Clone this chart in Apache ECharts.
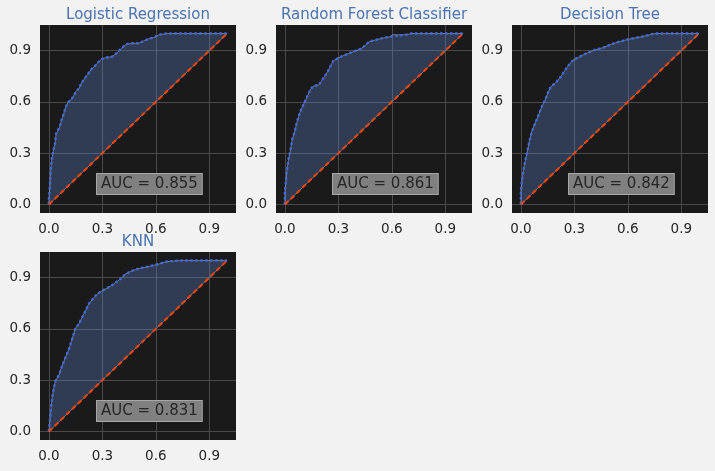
<!DOCTYPE html>
<html>
<head>
<meta charset="utf-8">
<script src="https://cdn.jsdelivr.net/npm/echarts@6/dist/echarts.min.js"></script>
<style>
  html, body { margin: 0; padding: 0; background: #f2f2f2; }
  #chart { width: 715px; height: 471px; }
</style>
</head>
<body>
<div id="chart"></div>
<script>
(function() {
	// model names and AUC text
	var modelNames = ['Logistic Regression', 'Random Forest Classifier', 'Decision Tree', 'KNN'];
	var aucValues = ['0.855', '0.861', '0.842', '0.831'];

	// ROC curves
	var lrFpr = [0, 0, 0.006, 0.011, 0.017, 0.024, 0.034, 0.041, 0.048, 0.061, 0.071, 0.082, 0.095, 0.108, 0.123, 0.142, 0.151, 0.17, 0.182, 0.197, 0.216, 0.235, 0.263, 0.281, 0.296, 0.318, 0.356, 0.38, 0.408, 0.434, 0.467, 0.505, 0.533, 0.56, 0.588, 0.616, 0.66, 1.0];
	var lrTpr = [0, 0.035, 0.113, 0.21, 0.27, 0.31, 0.357, 0.416, 0.426, 0.455, 0.494, 0.527, 0.572, 0.598, 0.611, 0.64, 0.66, 0.68, 0.71, 0.732, 0.758, 0.787, 0.816, 0.836, 0.85, 0.859, 0.865, 0.885, 0.914, 0.938, 0.943, 0.943, 0.957, 0.969, 0.977, 0.992, 1.0, 1.0];

	var rfFpr = [0, 0, 0.006, 0.01, 0.021, 0.03, 0.04, 0.055, 0.068, 0.083, 0.098, 0.116, 0.129, 0.144, 0.161, 0.19, 0.203, 0.222, 0.24, 0.259, 0.272, 0.296, 0.324, 0.361, 0.398, 0.426, 0.45, 0.473, 0.51, 0.547, 0.594, 0.602, 0.68, 0.71, 1.0];
	var rfTpr = [0, 0.074, 0.133, 0.19, 0.27, 0.31, 0.377, 0.426, 0.484, 0.533, 0.572, 0.611, 0.64, 0.674, 0.693, 0.699, 0.719, 0.748, 0.777, 0.816, 0.84, 0.855, 0.869, 0.885, 0.9, 0.91, 0.93, 0.953, 0.963, 0.973, 0.982, 0.993, 0.993, 1.0, 1.0];

	var dtFpr = [0, 0, 0.009, 0.019, 0.034, 0.047, 0.061, 0.08, 0.099, 0.117, 0.136, 0.154, 0.168, 0.192, 0.22, 0.242, 0.266, 0.294, 0.331, 0.369, 0.415, 0.462, 0.509, 0.555, 0.6, 0.676, 0.75, 1.0];
	var dtTpr = [0, 0.084, 0.162, 0.23, 0.299, 0.367, 0.426, 0.475, 0.523, 0.572, 0.611, 0.66, 0.689, 0.709, 0.742, 0.777, 0.812, 0.846, 0.865, 0.885, 0.904, 0.918, 0.938, 0.953, 0.966, 0.981, 1.0, 1.0];

	var knnFpr = [0, 0.006, 0.013, 0.02, 0.028, 0.037, 0.056, 0.074, 0.093, 0.112, 0.13, 0.149, 0.168, 0.186, 0.205, 0.223, 0.248, 0.27, 0.298, 0.326, 0.363, 0.4, 0.428, 0.466, 0.512, 0.559, 0.615, 0.661, 0.736, 1.0];
	var knnTpr = [0, 0.07, 0.148, 0.209, 0.257, 0.296, 0.329, 0.384, 0.433, 0.481, 0.54, 0.604, 0.628, 0.667, 0.706, 0.745, 0.778, 0.803, 0.823, 0.838, 0.862, 0.891, 0.92, 0.94, 0.955, 0.965, 0.979, 0.994, 1.0, 1.0];

	var diagX = [0, 1];
	var diagY = [0, 1];

	var tickValues = [0, 0.3, 0.6, 0.9];
	var tickLabels = ['0.0', '0.3', '0.6', '0.9'];

	var curves = [[lrFpr, lrTpr], [rfFpr, rfTpr], [dtFpr, dtTpr], [knnFpr, knnTpr]];

	var FONT = 'DejaVu Sans';
	var boxes = [
		{ left: 40, top: 25 },
		{ left: 276, top: 25 },
		{ left: 512, top: 25 },
		{ left: 40, top: 252 }
	];
	var W = 196, H = 188;

	function pairs(xs, ys) {
		return xs.map(function(x, i) { return [x, ys[i]]; });
	}

	function makeAxis(idx) {
		return {
			type: 'value', gridIndex: idx, min: -0.05, max: 1.05,
			axisLine: { show: false },
			axisTick: { show: false, customValues: tickValues },
			axisLabel: {
				customValues: tickValues, color: '#262626', fontFamily: FONT, fontSize: 13.5, margin: 9,
				formatter: function(v) { var k = tickValues.indexOf(v); return k >= 0 ? tickLabels[k] : ''; }
			},
			splitLine: { show: true, lineStyle: { color: '#4a4a4a', width: 1 } }
		};
	}

	var grids = [], xAxes = [], yAxes = [], titles = [], series = [];
	boxes.forEach(function(b, i) {
		grids.push({ left: b.left, top: b.top, width: W, height: H, show: true, backgroundColor: '#1a1a1a', borderWidth: 0 });
		xAxes.push(makeAxis(i));
		yAxes.push(makeAxis(i));
		titles.push({
			text: modelNames[i], left: b.left + W / 2 - 5, top: b.top - 22, textAlign: 'center',
			textStyle: { color: '#4c72b0', fontFamily: FONT, fontSize: 15, fontWeight: 'normal' }
		});

		var pts = pairs(curves[i][0], curves[i][1]);
		// shaded area between curve and diagonal
		series.push({
			type: 'custom', xAxisIndex: i, yAxisIndex: i, silent: true, z: 1,
			data: pts,
			renderItem: function(params, api) {
				if (params.dataIndex !== 0) return null;
				var poly = pts.map(function(p) { return api.coord(p); });
				return {
					type: 'polygon',
					shape: { points: poly },
					style: { fill: 'rgba(100,140,220,0.3)', stroke: 'rgba(160,170,190,0.6)', lineWidth: 1 }
				};
			}
		});
		series.push({
			type: 'line', xAxisIndex: i, yAxisIndex: i, data: pts, showSymbol: false, silent: true, z: 3,
			lineStyle: { color: '#4169e1', width: 2.4, type: [2.4, 2.6] }
		});
		series.push({
			type: 'line', xAxisIndex: i, yAxisIndex: i, data: pairs(diagX, diagY), showSymbol: false, silent: true, z: 3,
			lineStyle: { color: '#ff4500', width: 2, type: [5, 3] }
		});
		series.push({
			type: 'scatter', xAxisIndex: i, yAxisIndex: i, data: [[0.27, 0.12]], symbolSize: 0, silent: true, z: 5,
			itemStyle: { opacity: 1 },
			label: {
				show: true, position: 'right', distance: 0,
				formatter: 'AUC = ' + aucValues[i],
				color: '#262626', fontFamily: FONT, fontSize: 15,
				backgroundColor: '#808080', borderColor: '#a8a8a8', borderWidth: 1,
				padding: [3, 4, 2, 4]
			}
		});
	});

	var chart = echarts.init(document.getElementById('chart'), null, { renderer: 'canvas' });
	chart.setOption({
		backgroundColor: '#f2f2f2',
		animation: false,
		title: titles,
		grid: grids,
		xAxis: xAxes,
		yAxis: yAxes,
		series: series
	});
})();
</script>
</body>
</html>
